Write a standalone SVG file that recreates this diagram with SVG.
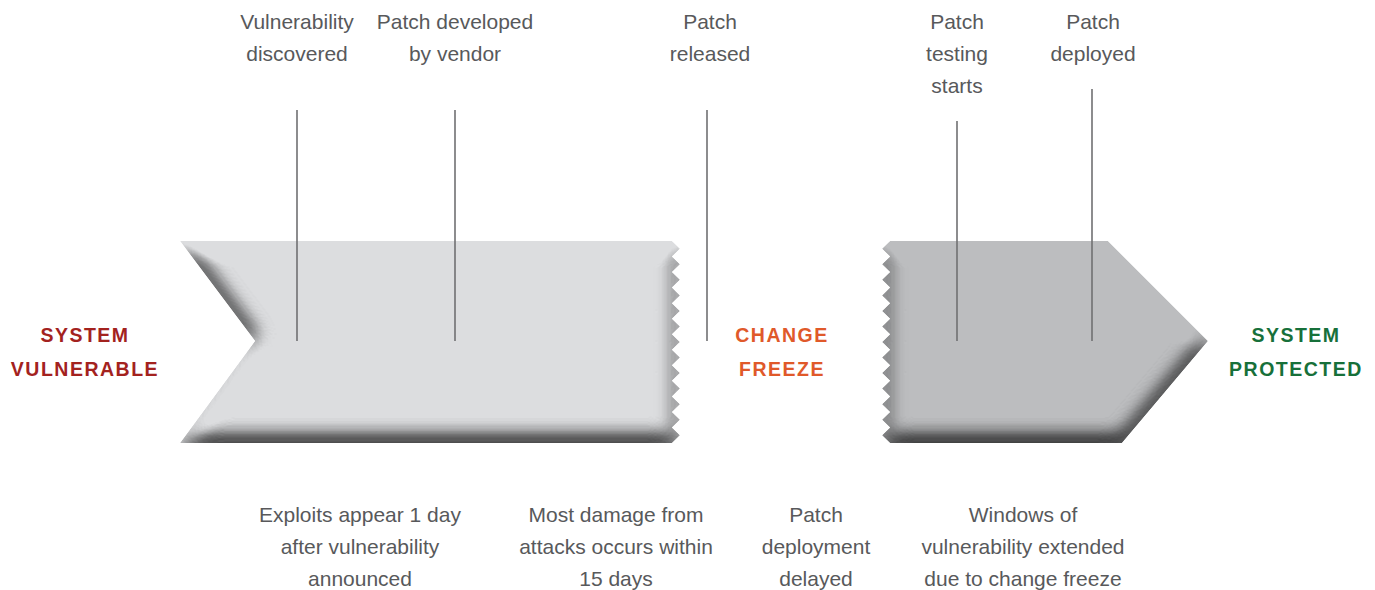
<svg xmlns="http://www.w3.org/2000/svg" width="1375" height="590" viewBox="0 0 1375 590">
<style>
.lbl{font-family:"Liberation Sans",Arial,sans-serif;font-size:21px;fill:#58595b;text-anchor:middle}
.st{font-family:"Liberation Sans",Arial,sans-serif;font-size:19.5px;font-weight:bold;text-anchor:middle;letter-spacing:1.5px}
.red{fill:#a3221e}.org{fill:#e0592a}.grn{fill:#17703a}
.tick{stroke:#707072;stroke-width:1.6;fill:none}
</style>
<defs>
<filter id="bevel" x="-5%" y="-10%" width="110%" height="120%" color-interpolation-filters="sRGB">
<feGaussianBlur in="SourceAlpha" stdDeviation="10" result="b"/>
<feDiffuseLighting in="b" surfaceScale="11" diffuseConstant="1.155" lighting-color="#ffffff" result="l">
<feDistantLight azimuth="270" elevation="60"/>
</feDiffuseLighting>
<feComposite in="SourceGraphic" in2="l" operator="arithmetic" k1="1" result="lit"/>
<feComposite in="lit" in2="SourceAlpha" operator="in"/>
</filter>
</defs>
<g id="shape-vulnerable">
<path filter="url(#bevel)" fill="#dcdddf" d="M180,241 L672,241 L680,248.8 L672,256.5 L680,264.3 L672,272.1 L680,279.8 L672,287.6 L680,295.4 L672,303.2 L680,310.9 L672,318.7 L680,326.5 L672,334.2 L680,342 L672,349.8 L680,357.5 L672,365.3 L680,373.1 L672,380.8 L680,388.6 L672,396.4 L680,404.2 L672,411.9 L680,419.7 L672,427.5 L680,435.2 L672,443 L180,443 L255,341 Z"/>
</g>
<g id="shape-protected">
<path filter="url(#bevel)" fill="#bcbdbf" d="M890,241 L1108,241 L1208,341 L1122,443 L890,443 L882,435.2 L890,427.5 L882,419.7 L890,411.9 L882,404.2 L890,396.4 L882,388.6 L890,380.8 L882,373.1 L890,365.3 L882,357.5 L890,349.8 L882,342 L890,334.2 L882,326.5 L890,318.7 L882,310.9 L890,303.2 L882,295.4 L890,287.6 L882,279.8 L890,272.1 L882,264.3 L890,256.5 L882,248.8 Z"/>
</g>
<g id="connectors">
<line class="tick" x1="297" y1="110" x2="297" y2="341"/>
<line class="tick" x1="455" y1="110" x2="455" y2="341"/>
<line class="tick" x1="707" y1="110" x2="707" y2="341"/>
<line class="tick" x1="957" y1="121" x2="957" y2="341"/>
<line class="tick" x1="1092" y1="89" x2="1092" y2="341"/>
</g>
<g id="label-vulnerability-discovered"><text class="lbl" x="297" y="29">Vulnerability</text><text class="lbl" x="297" y="61">discovered</text></g>
<g id="label-patch-developed"><text class="lbl" x="455" y="29">Patch developed</text><text class="lbl" x="455" y="61">by vendor</text></g>
<g id="label-patch-released"><text class="lbl" x="710" y="29">Patch</text><text class="lbl" x="710" y="61">released</text></g>
<g id="label-patch-testing"><text class="lbl" x="957" y="29">Patch</text><text class="lbl" x="957" y="61">testing</text><text class="lbl" x="957" y="93">starts</text></g>
<g id="label-patch-deployed"><text class="lbl" x="1093" y="29">Patch</text><text class="lbl" x="1093" y="61">deployed</text></g>
<g id="label-system-vulnerable"><text class="st red" x="85" y="342">SYSTEM</text><text class="st red" x="85" y="376">VULNERABLE</text></g>
<g id="label-change-freeze"><text class="st org" x="782" y="342">CHANGE</text><text class="st org" x="782" y="376">FREEZE</text></g>
<g id="label-system-protected"><text class="st grn" x="1296" y="342">SYSTEM</text><text class="st grn" x="1296" y="376">PROTECTED</text></g>
<g id="note-exploits"><text class="lbl" x="360" y="522">Exploits appear 1 day</text><text class="lbl" x="360" y="554">after vulnerability</text><text class="lbl" x="360" y="586">announced</text></g>
<g id="note-damage"><text class="lbl" x="616" y="522">Most damage from</text><text class="lbl" x="616" y="554">attacks occurs within</text><text class="lbl" x="616" y="586">15 days</text></g>
<g id="note-delayed"><text class="lbl" x="816" y="522">Patch</text><text class="lbl" x="816" y="554">deployment</text><text class="lbl" x="816" y="586">delayed</text></g>
<g id="note-windows"><text class="lbl" x="1023" y="522">Windows of</text><text class="lbl" x="1023" y="554">vulnerability extended</text><text class="lbl" x="1023" y="586">due to change freeze</text></g>
</svg>
